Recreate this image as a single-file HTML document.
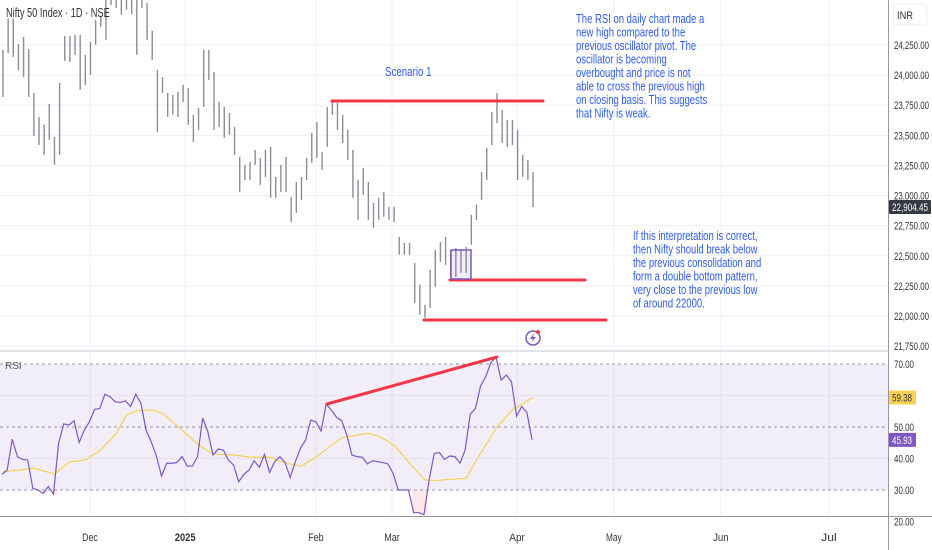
<!DOCTYPE html>
<html><head><meta charset="utf-8"><style>
html,body{margin:0;padding:0;background:#fff;}
svg{display:block;font-family:"Liberation Sans",sans-serif;}
.ann{font-family:"Liberation Sans",sans-serif;font-size:12.5px;fill:#2f5cf0;}
.ax{font-size:11px;fill:#333;font-family:"Liberation Sans",sans-serif;}
</style></head><body>
<svg id="chart" width="932" height="550">
<g id="grid"></g>
<g id="rsiBg"></g>
<g id="bars"></g>
<g id="rsiG"></g>
<g id="draw"></g>
<g id="axes"></g>
<g transform="translate(6,0) scale(0.74,1)"><rect x="-2" y="4" width="128" height="15" fill="rgba(255,255,255,0.7)"/><text x="0" y="17" font-size="12.5" fill="#333">Nifty 50 Index · 1D · NSE</text></g>
<g transform="translate(385,0) scale(0.78,1)"><text x="0" y="76" class="ann" font-size="13.5">Scenario 1</text></g>
<g transform="translate(576,0) scale(0.76,1)">
<text class="ann">
<tspan x="0" y="23">The RSI on daily chart made a</tspan>
<tspan x="0" y="36.5">new high compared to the</tspan>
<tspan x="0" y="50">previous oscillator pivot. The</tspan>
<tspan x="0" y="63.5">oscillator is becoming</tspan>
<tspan x="0" y="77">overbought and price is not</tspan>
<tspan x="0" y="90.5">able to cross the previous high</tspan>
<tspan x="0" y="104">on closing basis. This suggests</tspan>
<tspan x="0" y="117.5">that Nifty is weak.</tspan>
</text></g>
<g transform="translate(633,0) scale(0.76,1)">
<text class="ann">
<tspan x="0" y="240">If this interpretation is correct,</tspan>
<tspan x="0" y="253.5">then Nifty should break below</tspan>
<tspan x="0" y="267">the previous consolidation and</tspan>
<tspan x="0" y="280.5">form a double bottom pattern,</tspan>
<tspan x="0" y="294">very close to the previous low</tspan>
<tspan x="0" y="307.5">of around 22000.</tspan>
</text></g>
<text x="5" y="369" font-size="10" fill="#555">RSI</text>
</svg>
<script>
const highs=[24209,24475,24475,24259,24317,24217,23852,23653,23587,23761,23487,23935,24325,24325,24334,24334,24168,24275,24458,24491,24666,24666,24666,24666,24666,24666,24666,24666,24599,24367,24043,23985,23852,23835,23860,23919,23894,23670,23728,24209,24209,24026,23777,23736,23686,23570,23321,23255,23279,23379,23313,23379,23404,23155,23255,23321,22989,23113,23155,23313,23520,23611,23362,23736,23794,23769,23670,23545,23379,23130,23230,23113,22939,22981,23030,22906,22906,22657,22607,22607,22441,22259,22093,22383,22549,22615,22657,22549,22566,22549,22574,22840,22923,23196,23396,23694,23852,23711,23628,23628,23545,23338,23296,23196];
const lows=[23819,24184,24151,24043,23985,23819,23495,23420,23338,23462,23255,23338,24118,24109,24168,23877,23919,24002,24250,24400,24292,24583,24558,24500,24541,24508,24168,24558,24292,24126,23528,23852,23653,23670,23653,23777,23587,23445,23545,23736,23960,23545,23570,23479,23504,23338,23030,23130,23130,23255,23089,23155,22981,22981,23030,23030,22781,22856,22964,23130,23271,23313,23213,23404,23670,23545,23437,23296,22981,22798,23006,22798,22732,22798,22823,22798,22781,22508,22508,22508,22109,22010,21985,22068,22242,22449,22425,22325,22325,22358,22358,22591,22798,22964,23130,23420,23603,23437,23404,23420,23130,23155,23130,22904];
const rsiValues=[35.0,36.3,46.1,40.6,39.7,39.5,30.5,30.0,28.9,31.1,28.7,44.8,51.0,50.6,52.0,45.1,49.0,51.7,55.6,55.9,60.4,59.6,58.0,57.8,58.3,56.5,60.4,57.5,49.0,45.3,40.8,34.4,38.5,38.5,38.7,40.6,37.6,37.6,40.6,52.8,48.5,41.1,43.0,42.7,39.5,37.9,32.6,35.0,36.3,39.3,37.2,41.3,35.6,39.0,40.6,38.7,34.0,39.0,43.2,45.9,52.2,51.7,48.7,57.3,55.4,53.1,52.0,47.5,41.1,40.6,40.4,38.3,39.3,39.0,38.7,38.3,35.3,30.0,30.0,30.0,22.8,22.8,22.2,33.2,41.6,41.9,39.7,40.8,40.6,38.5,42.7,54.1,55.9,63.0,66.0,70.4,72.1,64.9,66.5,64.4,53.5,56.5,54.6,45.93];
const maBars=[0,3,6,10,13,16,19,22,24,26,29,31,34,38,41,45,48,52,55,58,61,63,66,69,71,73,76,79,82,84,87,90,92,96,99,103];
const maValues=[35.8,36.3,36.9,35.1,39.0,39.5,42.7,48.0,53.8,55.2,55.4,54.3,50.1,44.3,41.4,41.1,40.4,40.4,38.5,37.6,40.6,43.2,46.7,47.5,48.0,47.1,44.3,38.5,33.2,33.0,33.4,33.7,39.5,50.1,55.4,59.38];
const priceTicks=[24250,24000,23750,23500,23250,23000,22750,22500,22250,22000,21750];
const rsiTicks=[70,50,40,30,20];
const monthLabels=["Dec","2025","Feb","Mar","Apr","May","Jun","Jul"];
const monthBars=[16.9,35.4,60.8,75.6,99.9,118.7,139.5,160.5];

const NS="http://www.w3.org/2000/svg";
const xOf=i=>3+i*5.146;
const yP=p=>45+(24250-p)*0.12044;
const yR=r=>364+(70-r)*3.15;
function mk(par,tag,at){const e=document.createElementNS(NS,tag);for(const k in at)e.setAttribute(k,at[k]);par.appendChild(e);return e;}
const G=id=>document.getElementById(id);

const grid=G('grid');
priceTicks.forEach(p=>{const l=mk(grid,'line',{x1:0,x2:888,y1:yP(p),y2:yP(p),stroke:'#eef1f7','stroke-width':1});

});
monthBars.forEach(b=>{const l=mk(grid,'line',{x1:xOf(b),x2:xOf(b),y1:0,y2:517,stroke:'#eef1f7','stroke-width':1});

});

const rb=G('rsiBg');
mk(rb,'line',{x1:0,x2:888,y1:351,y2:351,stroke:'#e0e3eb','stroke-width':2});
const band=mk(rb,'rect',{x:0,y:yR(70),width:888,height:yR(30)-yR(70),fill:'rgba(126,87,194,0.1)'});


[70,50,30].forEach(v=>{const l=mk(rb,'line',{x1:0,x2:888,y1:yR(v),y2:yR(v),stroke:'#9598a1','stroke-dasharray':'3 3','stroke-width':1});

});
[60,40].forEach(v=>mk(rb,'line',{x1:0,x2:888,y1:yR(v),y2:yR(v),stroke:'#e6e2f2','stroke-width':1}));

const bg=G('bars');
highs.forEach((h,i)=>{const l=mk(bg,'line',{x1:xOf(i),x2:xOf(i),y1:yP(h),y2:yP(lows[i]),stroke:'#8a8d96','stroke-width':1.4});

});

const rg=G('rsiG');
let os='';rsiValues.forEach((v,i)=>{if(v<30){os+=`M${xOf(i)-2.6},${yR(30)}L${xOf(i)-2.6},${yR(v)}L${xOf(i)+2.6},${yR(v)}L${xOf(i)+2.6},${yR(30)}Z`;}});
const osf=mk(rg,'path',{d:os,fill:'rgba(242,54,69,0.12)'});


const ma=mk(rg,'polyline',{points:maBars.map((b,i)=>xOf(b)+','+yR(maValues[i])).join(' '),fill:'none',stroke:'#f7d154','stroke-width':1.2});


const rl=mk(rg,'polyline',{points:rsiValues.map((v,i)=>Math.max(0,xOf(i)-1)+','+yR(v)).join(' '),fill:'none',stroke:'#7e57c2','stroke-width':1.2});



const d=G('draw');
function red(x1,y1,x2,y2,n){const l=mk(d,'line',{x1,y1,x2,y2,stroke:'#f23645','stroke-width':3,'stroke-linecap':'round'});

}
red(332,101,543,101,'resistance-line');
red(450,280,585,280,'consolidation-low-line');
red(424,320,606,320,'previous-low-line');
red(327,404,497,357,'rsi-divergence-line');
const box=mk(d,'rect',{x:451,y:250,width:20,height:29,fill:'rgba(126,87,194,0.1)',stroke:'#7e57c2','stroke-width':1.5});


const ic=mk(d,'g',{});


mk(ic,'circle',{cx:533,cy:338,r:7,fill:'none',stroke:'#7e57c2','stroke-width':1.5});
mk(ic,'path',{d:'M534,333 L530,339 L533,339 L531,343 L536,337 L533,337 Z',fill:'#7e57c2'});
mk(ic,'circle',{cx:538,cy:332,r:2,fill:'#f23645'});

const ax=G('axes');
mk(ax,'rect',{x:889,y:0,width:43,height:550,fill:'#fff'});
mk(ax,'line',{x1:888.5,x2:888.5,y1:0,y2:550,stroke:'#9598a1','stroke-width':1});
mk(ax,'line',{x1:0,x2:932,y1:516.5,y2:516.5,stroke:'#9598a1','stroke-width':1});
mk(ax,'rect',{x:893,y:4,width:34,height:21,rx:3,fill:'#fff',stroke:'#eee'});
const it=mk(ax,'text',{x:897,y:19,class:'ax',textLength:16,lengthAdjust:'spacingAndGlyphs'});it.textContent='INR';


priceTicks.forEach(p=>{const t=mk(ax,'text',{x:894,y:yP(p)+4,class:'ax',textLength:35,lengthAdjust:'spacingAndGlyphs'});t.textContent=p.toLocaleString('en-US',{minimumFractionDigits:2});

});
rsiTicks.forEach(v=>{const t=mk(ax,'text',{x:894,y:yR(v)+4,class:'ax',textLength:20,lengthAdjust:'spacingAndGlyphs'});t.textContent=v.toFixed(2);

});
function badge(y,txt,bgc,fg,n,w,tl){mk(ax,'rect',{x:889,y:y-7,width:w,height:14,fill:bgc,rx:1});const t=mk(ax,'text',{x:892,y:y+4,class:'ax',textLength:tl,lengthAdjust:'spacingAndGlyphs'});t.style.fill=fg;t.textContent=txt;

}
badge(yP(22904.45),'22,904.45','#363a45','#fff','last-price-badge',42,36);
badge(yR(59.38),'59.38','#f7d154','#333','rsi-ma-badge',27,20);
badge(yR(45.93),'45.93','#7e57c2','#fff','rsi-value-badge',27,20);
monthLabels.forEach((m,i)=>{const t=mk(ax,'text',{x:xOf(monthBars[i]),y:541,'text-anchor':'middle',class:'ax','font-weight':m==='2025'?'bold':'normal',textLength:m.length*5.2,lengthAdjust:'spacingAndGlyphs'});t.textContent=m;

});
</script>
</body></html>
